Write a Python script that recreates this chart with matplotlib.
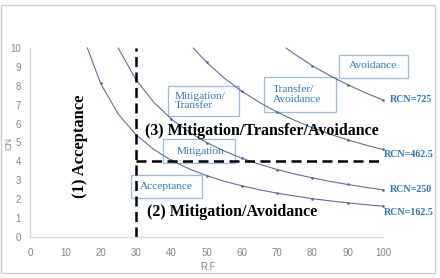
import matplotlib
matplotlib.use("Agg")
import matplotlib.pyplot as plt
from matplotlib.patches import Rectangle

# curve readings (RF on x, CN on y)
rf_162 = [16.25, 20, 25, 30, 35, 40, 45, 50, 55, 60, 65, 70, 75, 80, 85, 90, 95, 100]
cn_162 = [10, 8.13, 6.5, 5.42, 4.64, 4.06, 3.61, 3.25, 2.95, 2.71, 2.5, 2.32, 2.17, 2.03, 1.91, 1.81, 1.71, 1.63]
rf_250 = [25, 30, 35, 40, 45, 50, 55, 60, 65, 70, 75, 80, 85, 90, 95, 100]
cn_250 = [10, 8.33, 7.14, 6.25, 5.56, 5.0, 4.55, 4.17, 3.85, 3.57, 3.33, 3.13, 2.94, 2.78, 2.63, 2.5]
rf_462 = [46.25, 50, 55, 60, 65, 70, 75, 80, 85, 90, 95, 100]
cn_462 = [10, 9.25, 8.41, 7.71, 7.12, 6.61, 6.17, 5.78, 5.44, 5.14, 4.87, 4.63]
rf_725 = [72.5, 75, 80, 85, 90, 95, 100]
cn_725 = [10, 9.67, 9.06, 8.53, 8.06, 7.63, 7.25]

curve_labels = ["RCN=162.5", "RCN=250", "RCN=462.5", "RCN=725"]
x_ticks = list(range(0, 101, 10))
y_ticks = list(range(0, 11))

rf_limit = 30
cn_limit = 4

curve_color = "#55689c"
blue = "#2e75b6"
box_edge = "#9dbbe0"
gray = "#858585"
serif = ["Liberation Serif", "DejaVu Serif"]

fig = plt.figure(figsize=(4.4, 2.78), dpi=100)
ax = fig.add_axes([30 / 440, 41 / 278, 353 / 440, 189 / 278])

curves = [(rf_162, cn_162), (rf_250, cn_250), (rf_462, cn_462), (rf_725, cn_725)]
for rf, cn in curves:
    marks = [i for i, x in enumerate(rf) if x % 10 == 0]
    ax.plot(rf, cn, color=curve_color, lw=0.75, marker="o", ms=0.9,
            markevery=marks, clip_on=False)

# quadrant dividers
ax.plot([rf_limit, rf_limit], [0, 10], color="black", lw=1.8, ls=(0, (4, 2.2)))
ax.plot([rf_limit, 99], [cn_limit, cn_limit], color="black", lw=1.8, ls=(0, (4, 2.2)))

ax.set_xlim(0, 100)
ax.set_ylim(0, 10)
ax.set_xticks(x_ticks)
ax.set_yticks(y_ticks)
ax.tick_params(length=0, labelsize=7, labelcolor=gray)
ax.tick_params(axis="y", pad=6.5)
ax.tick_params(axis="x", pad=8)
for lab in ax.get_xticklabels() + ax.get_yticklabels():
    lab.set_family("Liberation Sans")
for side in ["top", "right"]:
    ax.spines[side].set_visible(False)
for side in ["left", "bottom"]:
    ax.spines[side].set_color("#d9d9d9")
    ax.spines[side].set_linewidth(0.9)

fig.text(9 / 440, 1 - 143 / 278, "CN", rotation=90, ha="center", va="center",
         fontsize=6.5, color=gray, family="Liberation Sans")
fig.text(208 / 440, 1 - 267 / 278, "R.F", ha="center", va="center",
         fontsize=7, color=gray, family="Liberation Sans")

# region labels
ax.text(14.2, 4.8, "(1) Acceptance", rotation=90, ha="center", va="center",
        fontsize=11.9, fontweight="bold", family=serif)
ax.text(32.5, 5.6, "(3) Mitigation/Transfer/Avoidance", ha="left", va="center",
        fontsize=11.5, fontweight="bold", family=serif)
ax.text(33.1, 1.3, "(2) Mitigation/Avoidance", ha="left", va="center",
        fontsize=11.5, fontweight="bold", family=serif)

# RCN labels at line ends
label_pos = [(100.3, 1.27), (101.8, 2.5), (100.3, 4.34), (101.8, 7.25)]
for text, (x, y) in zip(curve_labels, label_pos):
    ax.text(x, y, text, ha="left", va="center", fontsize=7.2, fontweight="bold",
            color=blue, family=serif, clip_on=False)

# boxed zone notes: (x0, y0, x1, y1), text anchor, text
boxes = [
    ((87.5, 8.41, 107.1, 9.63), (97.2, 9.05), "center", "Avoidance"),
    ((66.3, 6.61, 86.7, 8.47), (68.8, 7.54), "left", "Transfer/\nAvoidance"),
    ((39.1, 6.40, 59.2, 7.99), (41.1, 7.2), "left", "Mitigation/\nTransfer"),
    ((37.7, 3.92, 58.1, 5.19), (48.2, 4.55), "center", "Mitigation"),
    ((28.6, 2.06, 48.7, 3.28), (38.6, 2.65), "center", "Acceptance"),
]
for (x0, y0, x1, y1), (tx, ty), ha, text in boxes:
    ax.add_patch(Rectangle((x0, y0), x1 - x0, y1 - y0, fill=False,
                           ec=box_edge, lw=0.9, clip_on=False))
    ax.text(tx, ty, text, ha=ha, va="center", fontsize=8.2, color=blue,
            family=serif, linespacing=1.05, clip_on=False)

# outer chart frame
fig.add_artist(Rectangle((1 / 440, 5 / 278), 434 / 440, 268 / 278,
                         transform=fig.transFigure, fill=False,
                         ec="#d0d0d0", lw=1.0))

fig.savefig("out.png", dpi=100)
